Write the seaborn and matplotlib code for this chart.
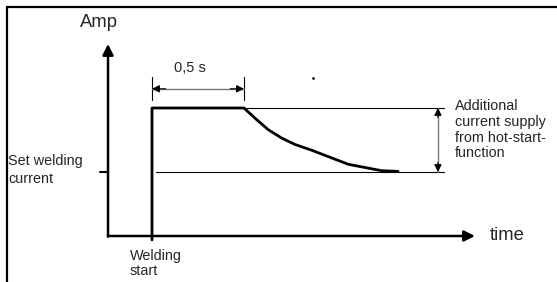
import numpy as np
import pandas as pd
import matplotlib
matplotlib.use("Agg")
import matplotlib.pyplot as plt
from matplotlib.lines import Line2D
import seaborn as sns

# hot-start current profile: time in s, current in % of set welding current
pulse_time = [0.0, 0.0, 0.5, 0.56, 0.632, 0.705, 0.777, 0.868, 0.958, 1.067, 1.176, 1.248, 1.337]
pulse_amp = [-6, 200, 200, 184, 166, 153, 143, 134, 124, 112, 106, 102, 101]
set_amp = 100
hot_amp = 200
hold_time = 0.5
ref_line_end = 1.587
x_axis = [-0.239, 1.755]
y_axis = [0, 300]

sns.set_style("white")
plt.rcParams['font.family'] = ['Liberation Sans', 'DejaVu Sans']

fig = plt.figure(figsize=(5.57, 2.82), dpi=100)
ax = fig.add_axes([0, 0, 1, 1])
ax.set_xlim(-0.826, 2.201)
ax.set_ylim(-71.9, 368.75)
ax.axis("off")

df = pd.DataFrame({"time": pulse_time, "amp": pulse_amp})
sns.lineplot(data=df, x="time", y="amp", sort=False, estimator=None,
             color="black", lw=2.0, ax=ax)

# reference lines
ax.plot([0.02, ref_line_end], [set_amp, set_amp], color="black", lw=0.8)
ax.plot([hold_time, ref_line_end], [hot_amp, hot_amp], color="black", lw=0.8)
ax.plot([x_axis[0] - 0.044, x_axis[0]], [set_amp, set_amp], color="black", lw=1.5)

# axes with arrows
ax.annotate("", xy=(x_axis[1], 0), xytext=(x_axis[0], 0),
            arrowprops=dict(arrowstyle="-|>", lw=1.8, color="black", mutation_scale=16,
                            shrinkA=0, shrinkB=0))
ax.annotate("", xy=(x_axis[0], y_axis[1]), xytext=(x_axis[0], -1),
            arrowprops=dict(arrowstyle="-|>", lw=1.8, color="black", mutation_scale=16,
                            shrinkA=0, shrinkB=0))


def dim_arrow(p0, p1):
    # gray stem, black heads at both ends
    ax.plot([p0[0], p1[0]], [p0[1], p1[1]], color="#777777", lw=1.0)
    for a, b in [(p0, p1), (p1, p0)]:
        mid = (a[0] + (b[0] - a[0]) * 0.85, a[1] + (b[1] - a[1]) * 0.85)
        ax.annotate("", xy=b, xytext=mid,
                    arrowprops=dict(arrowstyle="-|>", lw=0.8, color="black",
                                    mutation_scale=11, shrinkA=0, shrinkB=0))


# 0,5 s dimension
for t in [0.0, hold_time]:
    ax.plot([t, t], [212, 248], color="black", lw=0.8)
dim_arrow((0.0, 230), (hold_time, 230))
ax.text(0.207, 262, "0,5 s", fontsize=10.5, ha="center", va="center")

# hot-start dimension
dim_arrow((1.554, set_amp), (1.554, hot_amp))

ax.plot([0.875], [247], marker="s", ms=0.8, color="black")

ax.text(-0.391, 334, "Amp", fontsize=13.3, ha="left", va="center")
ax.text(1.837, 0, "time", fontsize=13.3, ha="left", va="center")
ax.text(-0.783, 103, "Set welding\ncurrent", fontsize=10.4, ha="left", va="center",
        linespacing=1.3)
ax.text(1.647, 166, "Additional\ncurrent supply\nfrom hot-start-\nfunction", fontsize=10.4,
        ha="left", va="center", linespacing=1.15)
ax.text(-0.12, -20, "Welding\nstart", fontsize=10.4, ha="left", va="top", linespacing=1.15)

# frame
fig.add_artist(Line2D([7 / 557, 1], [1 - 7 / 282, 1 - 7 / 282], color="black", lw=1.6))
fig.add_artist(Line2D([7 / 557, 7 / 557], [0, 1 - 7 / 282], color="black", lw=1.6))

fig.savefig("out.png", dpi=100)
